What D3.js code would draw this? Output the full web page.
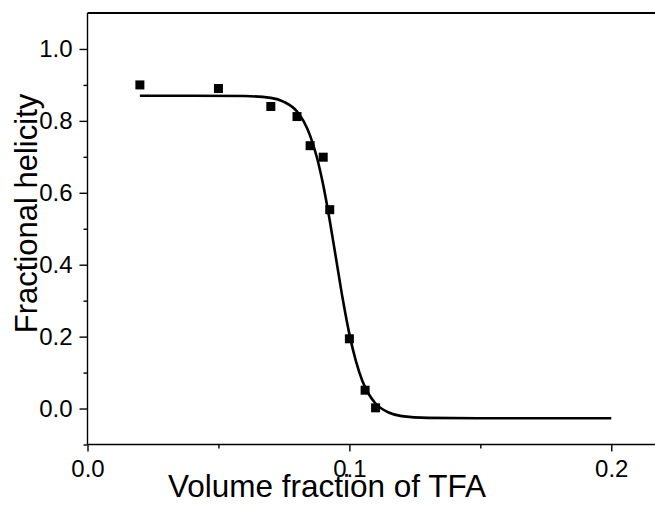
<!DOCTYPE html>
<html>
<head>
<meta charset="utf-8">
<script src="https://cdn.jsdelivr.net/npm/d3@7"></script>
<style>
html,body{margin:0;padding:0;background:#fff;}
svg{display:block;}
text{font-family:"Liberation Sans",Arial,sans-serif;fill:#000;}
</style>
</head>
<body>
<svg id="chart" width="655" height="506"></svg>
<script>
// Measured data points
const pointX = [0.02, 0.05, 0.07, 0.08, 0.085, 0.09, 0.0925, 0.10, 0.106, 0.11];
const pointY = [0.90, 0.89, 0.84, 0.812, 0.731, 0.699, 0.553, 0.194, 0.051, 0.002];
// Fitted curve
const curveX = [0.02, 0.04, 0.06, 0.07, 0.075, 0.08, 0.0825, 0.085, 0.0875, 0.09, 0.0925, 0.095, 0.0975, 0.10, 0.1025, 0.105, 0.1075, 0.11, 0.115, 0.12, 0.13, 0.15, 0.2];
const curveY = [0.870, 0.870, 0.869, 0.864, 0.853, 0.826, 0.799, 0.759, 0.701, 0.622, 0.523, 0.413, 0.303, 0.207, 0.132, 0.076, 0.039, 0.014, -0.011, -0.021, -0.026, -0.027, -0.027];
const xTicks = [0.0, 0.1, 0.2];
const xTickLabels = ["0.0", "0.1", "0.2"];
const xMinor = [0.05, 0.15];
const yTicks = [0.0, 0.2, 0.4, 0.6, 0.8, 1.0];
const yTickLabels = ["0.0", "0.2", "0.4", "0.6", "0.8", "1.0"];
const yMinor = [-0.1, 0.1, 0.3, 0.5, 0.7, 0.9];
const xTitle = "Volume fraction of TFA";
const yTitle = "Fractional helicity";

const svg = d3.select("#chart");
const mLeft = 87.5, mRight = 655, mTop = 13, mBottom = 444.5;
const x = d3.scaleLinear().domain([0, 0.2167]).range([mLeft, mRight]);
const y = d3.scaleLinear().domain([-0.1, 1.1]).range([mBottom, mTop]);

const axW = 1.4;
const xAxisMinor = d3.axisBottom(x).tickValues(xMinor).tickSize(4).tickFormat("");
const yAxisMinor = d3.axisLeft(y).tickValues(yMinor).tickSize(4).tickFormat("");
const xAxis = d3.axisBottom(x).tickValues(xTicks).tickSize(7).tickPadding(8)
  .tickFormat((d,i)=>xTickLabels[i]);
const yAxis = d3.axisLeft(y).tickValues(yTicks).tickSize(8).tickPadding(7)
  .tickFormat((d,i)=>yTickLabels[i]);

function style(g){
  g.select(".domain").remove();
  g.selectAll("line").attr("stroke","#000").attr("stroke-width",axW);
  g.selectAll("text").attr("font-size","24px").attr("font-family","'Liberation Sans',Arial,sans-serif").attr("fill","#000");
}
svg.append("g").attr("transform",`translate(0,${mBottom})`).call(xAxisMinor).call(style);
svg.append("g").attr("transform",`translate(${mLeft},0)`).call(yAxisMinor).call(style);
svg.append("g").attr("transform",`translate(0,${mBottom})`).call(xAxis).call(style);
svg.append("g").attr("transform",`translate(${mLeft},0)`).call(yAxis).call(style);

svg.append("line").attr("x1",mLeft).attr("x2",mRight).attr("y1",mBottom).attr("y2",mBottom).attr("stroke","#000").attr("stroke-width",axW);
svg.append("line").attr("x1",mLeft).attr("x2",mLeft).attr("y1",mTop).attr("y2",mBottom).attr("stroke","#000").attr("stroke-width",axW);
svg.append("line").attr("x1",mLeft).attr("x2",mRight).attr("y1",mTop).attr("y2",mTop).attr("stroke","#000").attr("stroke-width",1.8);

const curveData = curveX.map((d,i)=>[d, curveY[i]]);
svg.append("path").datum(curveData)
  .attr("fill","none").attr("stroke","#000").attr("stroke-width",2.6)
  .attr("d", d3.line().x(d=>x(d[0])).y(d=>y(d[1])).curve(d3.curveMonotoneX));

const pts = pointX.map((d,i)=>[d, pointY[i]]);
const s = 9;
svg.append("g").selectAll("rect").data(pts).join("rect")
  .attr("x", d=>x(d[0])-s/2).attr("y", d=>y(d[1])-s/2)
  .attr("width", s).attr("height", s).attr("fill","#000");

svg.append("text").attr("x", 327).attr("y", 497).attr("text-anchor","middle")
  .attr("font-size","31.5px").text(xTitle);
svg.append("text").attr("transform","translate(37,213.5) rotate(-90)").attr("text-anchor","middle")
  .attr("font-size","31px").text(yTitle);
</script>
</body>
</html>
